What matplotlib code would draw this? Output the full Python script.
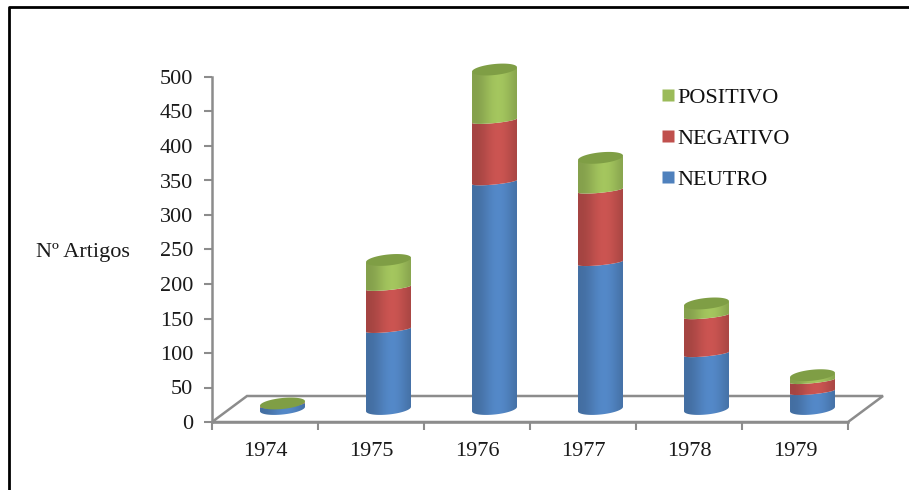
import matplotlib
matplotlib.use("Agg")
import matplotlib.pyplot as plt
from matplotlib.lines import Line2D
from matplotlib.patches import PathPatch, Polygon
from matplotlib.path import Path
import numpy as np

# values
anos = ["1974", "1975", "1976", "1977", "1978", "1979"]
neutro = [6, 115, 329, 212, 80, 25]
negativo = [1, 61, 89, 105, 55, 16]
positivo = [1, 40, 74, 47, 18, 8]

series = [neutro, negativo, positivo]
nomes = ["NEUTRO", "NEGATIVO", "POSITIVO"]
cores = ["#4f81bd", "#c0504d", "#9bbb59"]
tampa = "#7f9e45"

W, H = 909, 490
plt.rcParams["font.family"] = ["Liberation Serif"]

fig = plt.figure(figsize=(W / 100, H / 100), dpi=100)
ax = fig.add_axes([212 / W, 1 - 422 / H, (848 - 212) / W, (422 - 77) / H])

# pixel sizes converted to data units
px_x = 6 / (848 - 212)
px_y = 500 / (422 - 77)
prof_x = 35 * px_x      # floor depth
prof_y = 26 * px_y
a = 22.5 * px_x         # cylinder half width
b = 5.5 * px_y          # ellipse half height
b_seam = 2.5 * px_y     # seams between colours look flatter
inc = 2.2 * px_y        # tilt of the ellipse

t = np.linspace(0, 2 * np.pi, 121)
t_frente = np.linspace(np.pi, 2 * np.pi, 60)


def elipse(cx, cy, ang, bb=b):
    return cx + a * np.cos(ang), cy + bb * np.sin(ang) + inc * np.cos(ang)


def gradiente(cor):
    # shading across the cylinder, dark at the edges
    rgb = np.array(matplotlib.colors.to_rgb(cor))
    u = np.linspace(-1, 1, 90)
    luz = 0.86 + 0.20 * np.cos(u * 1.45 - 0.25) ** 2
    return np.clip(rgb[None, None, :] * luz[None, :, None], 0, 1)


# floor
chao = Polygon(
    [(0, 0), (6, 0), (6 + prof_x, prof_y), (prof_x, prof_y)],
    closed=True, fill=False, edgecolor="#8c8c8c", lw=1.8, clip_on=False, zorder=1,
)
ax.add_patch(chao)

for i in range(len(anos)):
    cx = i + 0.5 + prof_x / 2
    base = prof_y / 2
    n = 0
    for vals, cor in zip(series, cores):
        topo = base + vals[i]
        xb, yb = elipse(cx, base, t_frente, b if n == 0 else b_seam)
        xt, yt = elipse(cx, topo, t_frente[::-1], b_seam)
        path = Path(np.column_stack([np.r_[xb, xt], np.r_[yb, yt]]))
        clip = PathPatch(path, transform=ax.transData, fc="none", ec="none")
        ax.add_patch(clip)
        im = ax.imshow(
            gradiente(cor), extent=[cx - a, cx + a, base - 3 * b, topo + 3 * b],
            aspect="auto", zorder=3 + n, interpolation="bilinear",
        )
        im.set_clip_path(clip)
        im.set_clip_box(fig.bbox)
        base = topo
        n += 1
    xe, ye = elipse(cx, base, t)
    ax.fill(xe, ye, color=tampa, lw=0, zorder=8, clip_on=False)

ax.set_xlim(0, 6)
ax.set_ylim(0, 500)
ax.set_aspect("auto")
ax.patch.set_alpha(0)

for lado in ["top", "right"]:
    ax.spines[lado].set_visible(False)
for lado in ["left", "bottom"]:
    ax.spines[lado].set_color("#8c8c8c")
    ax.spines[lado].set_linewidth(1.8)

ax.set_yticks(np.arange(0, 501, 50))
ax.set_xticks(np.arange(0, 7))
ax.set_xticklabels([])
ax.set_xticks(np.arange(6) + 0.5, anos, minor=True)
ax.tick_params(axis="y", length=5.5, width=1.5, color="#8c8c8c", labelsize=16, pad=8, labelcolor="#1a1a1a")
ax.tick_params(axis="x", which="major", length=6, width=1.5, color="#8c8c8c")
ax.tick_params(axis="x", which="minor", length=0, labelsize=16, pad=14.5, labelcolor="#1a1a1a")

fig.text(36 / W, 1 - 252 / H, "Nº Artigos", fontsize=16, va="center", color="#1a1a1a")

# legend
legenda = [
    Line2D([], [], marker="s", ls="", ms=8.5, mfc=cores[j], mec="none", label=nomes[j])
    for j in [2, 1, 0]
]
ax.legend(
    handles=legenda, loc="upper left", bbox_to_anchor=(652 / W, 1 - 87 / H),
    bbox_transform=fig.transFigure, frameon=False, fontsize=16,
    handletextpad=-0.28, labelspacing=0.93, borderpad=0, borderaxespad=0,
    handlelength=1.4, labelcolor="#111111",
)

# black frame of the original figure
fig.add_artist(Line2D([9 / W, 9 / W, 1], [0, 1 - 7 / H, 1 - 7 / H], color="black", lw=2))

fig.savefig("out.png", dpi=100)
